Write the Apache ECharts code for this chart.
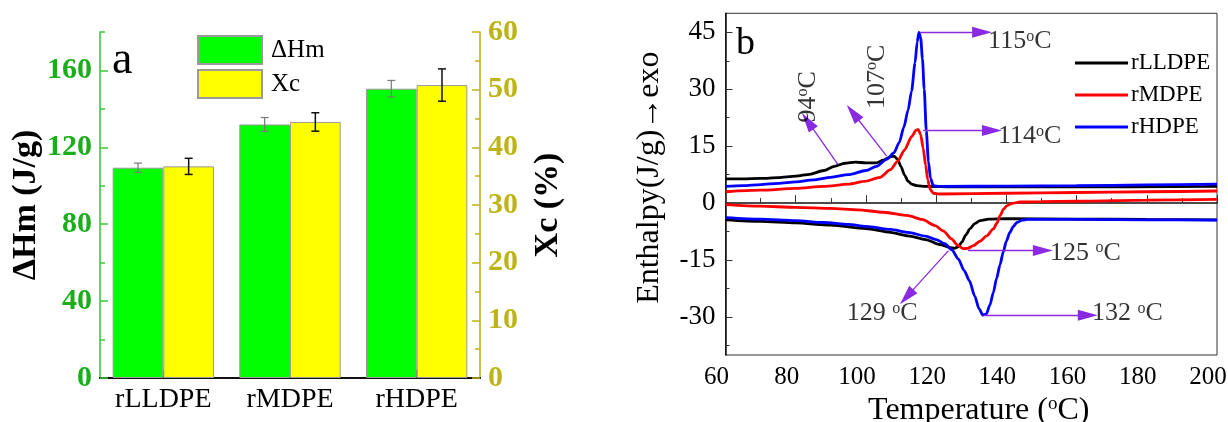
<!DOCTYPE html>
<html>
<head>
<meta charset="utf-8">
<title>PE enthalpy and DSC</title>
<script src="https://cdn.jsdelivr.net/npm/echarts@6/dist/echarts.min.js"></script>
<style>
  html, body { margin: 0; padding: 0; background: #fff; }
  #chart { width: 1228px; height: 422px; }
</style>
</head>
<body>
<div id="chart"></div>
<script>
// ---- Panel a: melting enthalpy and crystallinity ----
const categories = ['rLLDPE', 'rMDPE', 'rHDPE'];
const dHm = [109.4, 131.9, 150.5];
const dHmErr = [2.4, 3.6, 4.3];
const xc = [36.7, 44.4, 50.8];
const xcErr = [1.4, 1.6, 2.8];
const dHmLabelTicks = [0, 40, 80, 120, 160];
const dHmMinorTicks = [20, 60, 100, 140, 180];

// ---- Panel b: DSC curves, [temperature °C, enthalpy J/g] ----
const llCool = [[60,6.4],[65,6.4],[70,6.5],[75,6.7],[80,7.1],[84,7.6],[88,8.6],[91,9.7],[94,10.5],[97,10.8],[100,10.6],[103,10.6],[105,11.3],[107,12.2],[108,12.4],[109,11.6],[110,9.6],[111,7.4],[112,5.8],[113,5.0],[114.5,4.6],[117,4.4],[125,4.3],[150,4.3],[175,4.3],[200,4.4]];
const llHeat = [[60,-4.4],[70,-4.8],[80,-5.2],[90,-5.8],[100,-6.7],[107,-7.7],[112,-8.6],[117,-9.6],[121,-10.9],[124,-11.7],[125.2,-11.9],[126.3,-11.5],[127.3,-10.3],[128.5,-8.3],[129.6,-6.8],[131,-5.4],[132.5,-4.6],[135,-4.2],[140,-4.1],[160,-4.2],[180,-4.3],[200,-4.4]];
const mdCool = [[60,3.0],[70,3.4],[80,3.9],[88,4.4],[95,5.0],[100,5.8],[104,6.8],[107,8.8],[109,11],[111,14],[113,17.5],[114.3,19.2],[114.9,19.4],[115.6,18],[116.3,14.5],[117,10],[117.6,6.2],[118.3,3.6],[119.2,2.6],[121,2.4],[140,2.6],[160,2.8],[180,3.0],[200,3.2]];
const mdHeat = [[60,-0.4],[70,-0.8],[80,-1.1],[90,-1.4],[97.7,-1.75],[105,-2.4],[112,-3.3],[116,-4.3],[119.7,-5.9],[122,-7.3],[124.4,-9.4],[126,-11],[127.7,-12.0],[129,-11.9],[130.6,-11.2],[132.5,-10.0],[134.4,-8.6],[136.3,-6.8],[137.3,-5.3],[138.2,-3.3],[139.2,-1.6],[140.1,-0.7],[141.5,-0.1],[143.9,0.3],[150,0.4],[160,0.5],[180,0.8],[200,1.0]];
const hdCool = [[60,4.4],[65,4.6],[70,4.9],[75,5.2],[80,5.6],[85,6.1],[90,6.8],[95,7.5],[100,8.6],[103,9.7],[106,11.6],[108,13.3],[109.5,16],[110.8,20],[112,24.5],[113,29.5],[114,37],[114.6,42.5],[115.1,45],[115.6,43.5],[116.1,38],[116.6,30],[117.2,19],[117.8,11],[118.4,6.5],[119.2,4.6],[121,4.4],[140,4.5],[160,4.6],[180,4.8],[200,5.0]];
const hdHeat = [[60,-3.8],[70,-4.2],[80,-4.6],[88,-5.1],[95,-5.6],[100,-6.1],[107,-6.9],[112,-7.7],[117,-8.7],[120,-9.6],[122.5,-10.7],[124.5,-12.3],[126.3,-14.7],[128,-17.8],[129.5,-20.5],[131,-24.5],[132.2,-27.8],[133.3,-29.5],[134.3,-29.2],[135.3,-26.9],[136.3,-23.5],[137.2,-19.9],[138.2,-16.2],[139.1,-12.9],[140,-10],[141,-7.7],[142,-6.1],[143,-5.1],[144.5,-4.5],[146,-4.3],[160,-4.3],[180,-4.4],[200,-4.5]];
const enthalpyLabelTicks = [-30, -15, 0, 15, 30, 45];
const enthalpyMinorTicks = [-37.5, -22.5, -7.5, 7.5, 22.5, 37.5];

// Peak annotations (data coordinates)
const peakArrows = [
  [[92.0, 10.2], [83.4, 21.6]],
  [[105.9, 12.4], [96.3, 23.8]],
  [[115.4, 45], [133.1, 45]],
  [[116.3, 19.1], [135.9, 19.1]],
  [[129.1, -12.5], [150.4, -12.5]],
  [[123.5, -12.5], [111.6, -24.7]],
  [[133.5, -29.5], [163.2, -29.5]]
];
const sideLabels = [['115', 134.8, 42.6], ['114', 137.6, 17.6], ['125 ', 152.4, -13.1], ['132 ', 164.4, -29.1]];
const centerLabels = [['129 ', 104.6, -29.1]];
const verticalLabels = [['94', 83.5, 28], ['107', 103.1, 33.3]];

const SERIF = '"Liberation Serif", "Times New Roman", serif';
const GREEN_AX = '#3cc83c';
const GREEN_TXT = '#1aae1a';
const OLIVE = '#bdb517';
const PURPLE = '#8a2be2';
const INK = '#000';

const degRich = { sup: { fontSize: 16, verticalAlign: 'top', fontFamily: SERIF, color: INK } };
const degFmt = p => p.name + '{sup|o}C';

function errorBars(side, color, width) {
  return function (params, api) {
    const i = api.value(0), v = api.value(1), e = api.value(2);
    const band = api.size([1, 0])[0];
    const x = api.coord([i, v])[0] + side * band * 0.2;
    const yTop = api.coord([i, v + e])[1];
    const yBot = api.coord([i, v - e])[1];
    const st = { stroke: color, lineWidth: width };
    return {
      type: 'group',
      children: [
        { type: 'line', shape: { x1: x, y1: yTop, x2: x, y2: yBot }, style: st },
        { type: 'line', shape: { x1: x - 4, y1: yTop, x2: x + 4, y2: yTop }, style: st },
        { type: 'line', shape: { x1: x - 4, y1: yBot, x2: x + 4, y2: yBot }, style: st }
      ]
    };
  };
}

function curve(name, color, data) {
  return {
    name, type: 'line', xAxisIndex: 2, yAxisIndex: 3, data,
    showSymbol: false, symbol: 'none', smooth: 0.25, smoothMonotone: 'x',
    lineStyle: { color, width: 2.8 }, itemStyle: { color },
    animation: false, z: 3
  };
}

const chart = echarts.init(document.getElementById('chart'), null, { renderer: 'canvas' });

chart.setOption({
  animation: false,
  backgroundColor: '#fff',
  title: [
    { text: 'a', left: 107, top: 33, padding: 5, textStyle: { fontFamily: SERIF, fontSize: 46, fontWeight: 'normal', color: INK } },
    { text: 'b', left: 731, top: 20, padding: 5, textStyle: { fontFamily: SERIF, fontSize: 38, fontWeight: 'normal', color: INK } }
  ],
  legend: [
    {
      data: ['ΔHm', 'Xc'], orient: 'vertical', left: 197, top: 35, padding: 0,
      itemWidth: 64, itemHeight: 28, itemGap: 4, icon: 'rect', selectedMode: false,
      textStyle: { fontFamily: SERIF, fontSize: 25, color: INK, padding: [0, 0, 0, 4] }
    },
    {
      data: [
        { name: 'rLLDPE', icon: 'rect' },
        { name: 'rMDPE', icon: 'rect' },
        { name: 'rHDPE', icon: 'rect' }
      ],
      orient: 'vertical', left: 1075, top: 51, padding: 0,
      itemWidth: 53, itemHeight: 3, itemGap: 8, selectedMode: false,
      textStyle: { fontFamily: SERIF, fontSize: 23, lineHeight: 24, color: INK, padding: [0, 0, 0, -2] }
    }
  ],
  grid: [
    { left: 100, right: 748, top: 32, bottom: 44, outerBoundsMode: 'none' },
    { left: 725.5, right: 11, top: 13.3, bottom: 67, outerBoundsMode: 'none', show: true, borderColor: '#333', borderWidth: 1, backgroundColor: 'transparent' }
  ],
  xAxis: [
    {
      type: 'category', gridIndex: 0, data: categories,
      axisLine: { lineStyle: { color: '#555', width: 2 } },
      axisTick: { show: true, alignWithLabel: true, inside: true, length: 8, lineStyle: { color: '#111', width: 1.5 } },
      axisLabel: { fontFamily: SERIF, fontSize: 28, color: INK, margin: 8 }
    },
    {
      type: 'category', gridIndex: 0, position: 'top', data: categories,
      axisLine: { lineStyle: { color: '#111', width: 2 } },
      axisTick: { show: false }, axisLabel: { show: false }
    },
    {
      type: 'value', gridIndex: 1, min: 60, max: 200, interval: 20,
      name: 'Temperature ({sup|o}C)', nameLocation: 'middle', nameGap: 40,
      nameTextStyle: { fontFamily: SERIF, fontSize: 32, color: INK, padding: [0, 0, 0, 15],
        rich: { sup: { fontSize: 19, verticalAlign: 'top', fontFamily: SERIF, color: INK } } },
      axisLine: { lineStyle: { color: '#111', width: 1.5 } },
      axisTick: { inside: true, length: 8, lineStyle: { color: '#333' } },
      minorTick: { show: true, splitNumber: 2, length: 5, lineStyle: { color: '#333' } },
      splitLine: { show: false },
      axisLabel: { fontFamily: SERIF, fontSize: 25, color: INK, margin: 10, padding: [0, 18, 0, 0] }
    }
  ],
  yAxis: [
    {
      type: 'value', gridIndex: 0, position: 'left', min: 0, max: 180,
      name: 'ΔHm (J/g)', nameLocation: 'middle', nameRotate: 90, nameGap: 57,
      nameTextStyle: { fontFamily: SERIF, fontSize: 34, fontWeight: 'bold', color: INK },
      axisLine: { show: true, lineStyle: { color: GREEN_AX, width: 1.6 } },
      axisTick: { show: true, inside: true, length: 8, customValues: dHmLabelTicks, lineStyle: { color: GREEN_AX, width: 1.5 } },
      axisLabel: { customValues: dHmLabelTicks, fontFamily: SERIF, fontSize: 30, fontWeight: 'bold', color: GREEN_TXT, margin: 8 },
      splitLine: { show: false }
    },
    {
      type: 'value', gridIndex: 0, position: 'left', min: 0, max: 180,
      axisLine: { show: false },
      axisTick: { show: true, inside: true, length: 5, customValues: dHmMinorTicks, lineStyle: { color: GREEN_AX, width: 1.5 } },
      axisLabel: { show: false }, splitLine: { show: false }
    },
    {
      type: 'value', gridIndex: 0, position: 'right', min: 0, max: 60, interval: 10,
      name: 'Xc (%)', nameLocation: 'middle', nameRotate: 90, nameGap: 51,
      nameTextStyle: { fontFamily: SERIF, fontSize: 34, fontWeight: 'bold', color: INK },
      axisLine: { show: true, lineStyle: { color: OLIVE, width: 1.6 } },
      axisTick: { show: true, inside: true, length: 8, lineStyle: { color: OLIVE, width: 1.5 } },
      minorTick: { show: true, splitNumber: 2, length: 5, lineStyle: { color: OLIVE, width: 1.5 } },
      axisLabel: { fontFamily: SERIF, fontSize: 30, fontWeight: 'bold', color: OLIVE, margin: 8 },
      splitLine: { show: false }
    },
    {
      type: 'value', gridIndex: 1, position: 'left', min: -40, max: 50,
      name: 'Enthalpy(J/g)→exo', nameLocation: 'middle', nameRotate: 90, nameGap: 60,
      nameTextStyle: { fontFamily: SERIF, fontSize: 32, color: INK, padding: [0, 0, 0, 13] },
      axisLine: { show: true, lineStyle: { color: '#111', width: 1.5 } },
      axisTick: { show: true, inside: true, length: 7, customValues: enthalpyLabelTicks, lineStyle: { color: '#333' } },
      axisLabel: { customValues: enthalpyLabelTicks, fontFamily: SERIF, fontSize: 27, color: INK, margin: 10 },
      splitLine: { show: false }
    },
    {
      type: 'value', gridIndex: 1, position: 'left', min: -40, max: 50,
      axisLine: { show: false },
      axisTick: { show: true, inside: true, length: 4, customValues: enthalpyMinorTicks, lineStyle: { color: '#333' } },
      axisLabel: { show: false }, splitLine: { show: false }
    }
  ],
  series: [
    {
      name: 'ΔHm', type: 'bar', xAxisIndex: 0, yAxisIndex: 0, data: dHm,
      barGap: '0%', barCategoryGap: '20%',
      itemStyle: { color: '#00ff00', borderColor: '#9a9a9a', borderWidth: 1 }
    },
    {
      name: 'Xc', type: 'bar', xAxisIndex: 0, yAxisIndex: 2, data: xc,
      barGap: '0%', barCategoryGap: '20%',
      itemStyle: { color: '#ffff00', borderColor: '#9a9a9a', borderWidth: 1 }
    },
    {
      type: 'custom', xAxisIndex: 0, yAxisIndex: 0, z: 5,
      data: dHm.map((v, i) => [i, v, dHmErr[i]]), encode: { x: 0, y: 1 },
      renderItem: errorBars(-1, '#7a7a7a', 1.2)
    },
    {
      type: 'custom', xAxisIndex: 0, yAxisIndex: 2, z: 5,
      data: xc.map((v, i) => [i, v, xcErr[i]]), encode: { x: 0, y: 1 },
      renderItem: errorBars(1, '#111', 1.5)
    },
    curve('rLLDPE', '#000000', llCool),
    curve('rLLDPE', '#000000', llHeat),
    curve('rMDPE', '#ff0000', mdCool),
    curve('rMDPE', '#ff0000', mdHeat),
    curve('rHDPE', '#0000ff', hdCool),
    curve('rHDPE', '#0000ff', hdHeat),
    {
      type: 'scatter', xAxisIndex: 2, yAxisIndex: 3, symbolSize: 0, z: 6, silent: true,
      data: sideLabels.map(d => ({ name: d[0], value: [d[1], d[2]] })),
      label: { show: true, position: 'right', distance: 0, formatter: degFmt, fontFamily: SERIF, fontSize: 26, color: INK, rich: degRich },
      markLine: {
        silent: true, animation: false, symbol: ['none', 'triangle'], symbolSize: [11, 20],
        lineStyle: { color: PURPLE, width: 1.3, type: 'solid' }, label: { show: false },
        emphasis: { disabled: true },
        data: peakArrows.map(a => [{ coord: a[0] }, { coord: a[1] }])
      }
    },
    {
      type: 'scatter', xAxisIndex: 2, yAxisIndex: 3, symbolSize: 0, z: 6, silent: true,
      data: centerLabels.map(d => ({ name: d[0], value: [d[1], d[2]] })),
      label: { show: true, position: 'inside', formatter: degFmt, fontFamily: SERIF, fontSize: 26, color: INK, rich: degRich }
    },
    {
      type: 'scatter', xAxisIndex: 2, yAxisIndex: 3, symbolSize: 0, z: 6, silent: true,
      data: verticalLabels.map(d => ({ name: d[0], value: [d[1], d[2]] })),
      label: { show: true, position: 'inside', rotate: 90, formatter: degFmt, fontFamily: SERIF, fontSize: 26, color: INK, rich: degRich }
    }
  ]
});
</script>
</body>
</html>
